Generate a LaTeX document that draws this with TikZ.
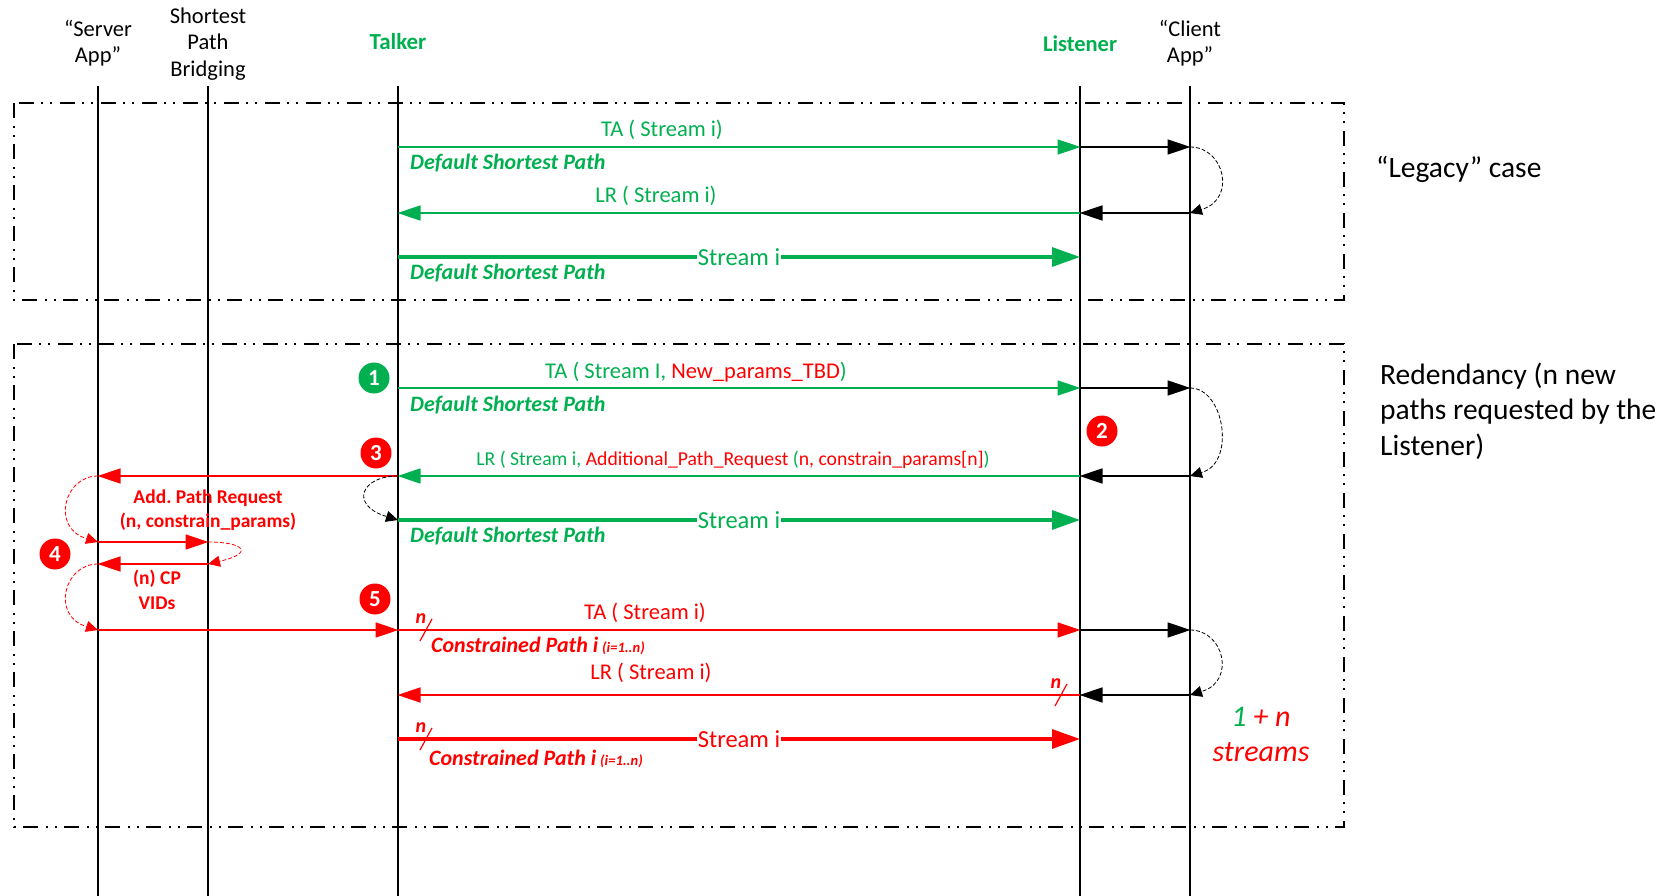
\documentclass[tikz,border=0pt]{standalone}
\usepackage{fontspec}
\setmainfont{Carlito}
\usepackage{tikz}
\usetikzlibrary{arrows.meta, calc, positioning}
\definecolor{talkgreen}{HTML}{00B050}
\newcommand\Fs[1]{\fontsize{#1}{#1}\selectfont\frenchspacing}
\tikzset{
  life/.style = {black, line width=1.6pt},
  frame/.style = {black, line width=1.5pt, dash pattern=on 15pt off 8pt on 2pt off 7pt on 2pt off 7pt},
  msg/.style = {line width=1.5pt, -{Triangle[length=23pt,width=15pt]}, shorten >=-0.5pt},
  flow/.style = {line width=3.2pt, -{Triangle[length=28pt,width=19pt]}},
  loopback/.style = {line width=0.8pt, dash pattern=on 4pt off 2pt, -{Triangle[length=12pt,width=11pt]}},
  txt/.style = {inner sep=0pt, align=center, font=\Fs{22.5}},
  path lbl/.style = {txt, anchor=west, font=\Fs{22}\bfseries\itshape},
  flow lbl/.style = {fill=white, inner xsep=1pt, inner ysep=1pt, font=\Fs{24.5}},
  step no/.style = {circle, fill=red, text=white, minimum size=31pt, inner sep=0pt, font=\Fs{23}\bfseries},
  note/.style = {txt, anchor=west, align=left, font=\Fs{29.5}},
}
\begin{document}
\begin{tikzpicture}[x=1pt, y=-1pt]
  \useasboundingbox (0,0) rectangle (1668,896);
  % lifelines and rows
  \foreach \l/\x in {server/98, bridge/208, talker/398, listener/1080, client/1190}{
    \coordinate (\l-top) at (\x,86);
    \coordinate (\l-bot) at (\x,896);
    \draw[life] (\l-top) -- (\l-bot);
    \foreach \r in {147,213,257,388,476,520,542,564,630,695,739}{
      \coordinate (\l-\r) at (\x,\r);
    }
  }
  % dashed frames
  \coordinate (legacy-nw) at (14,103);
  \coordinate (legacy-se) at (1344,300);
  \coordinate (red-nw) at (14,344);
  \coordinate (red-se) at (1344,827);
  \draw[frame] (legacy-nw) rectangle (legacy-se);
  \draw[frame] (red-nw) rectangle (red-se);
  % headers
  \node[txt] (serverHdr) at (98,43) {“Server\\[4pt]App”};
  \node[txt] (bridgeHdr) at (208,44) {Shortest\\[4pt]Path\\[4pt]Bridging};
  \node[txt, text=talkgreen, font=\Fs{23}\bfseries] (talkerHdr) at (398,42) {Talker};
  \node[txt, text=talkgreen, font=\Fs{22.5}\bfseries] (listenerHdr) at (1080,44) {Listener};
  \node[txt] (clientHdr) at (1190,43) {“Client\\[4pt]App”};
  % legacy case
  \draw[msg, talkgreen] (talker-147) -- (listener-147);
  \draw[msg, black] (listener-147) -- (client-147);
  \draw[loopback] (client-147) to[out=0, in=18, looseness=1.4] ($(client-213)+(13,-4)$) -- (client-213);
  \draw[msg, black] (client-213) -- (listener-213);
  \draw[msg, talkgreen] (listener-213) -- (talker-213);
  \draw[flow, talkgreen] (talker-257) -- node[flow lbl] (flowA) {Stream i} (listener-257);
  \node[txt, text=talkgreen] (taA) at (662,130) {TA ( Stream i)};
  \node[path lbl, text=talkgreen] (pathA) at (410,163) {Default Shortest Path};
  \node[txt, text=talkgreen] (lrA) at (656,196) {LR ( Stream i)};
  \node[path lbl, text=talkgreen] (pathB) at (410,273) {Default Shortest Path};
  \node[note] (legacyNote) at (1376,169) {“Legacy” case};
  % redundancy case
  \draw[msg, talkgreen] (talker-388) -- (listener-388);
  \draw[msg, black] (listener-388) -- (client-388);
  \draw[loopback] (client-388) to[out=0, in=18, looseness=1.03] ($(client-476)+(13,-4)$) -- (client-476);
  \draw[msg, black] (client-476) -- (listener-476);
  \draw[msg, talkgreen] (listener-476) -- (talker-476);
  \draw[msg, red] (talker-476) -- (server-476);
  \draw[loopback] (talker-476) to[out=180, in=162, looseness=2.25] ($(talker-520)+(-13,-4)$) -- (talker-520);
  \draw[flow, talkgreen] (talker-520) -- node[flow lbl] (flowB) {Stream i} (listener-520);
  \draw[loopback, red] (server-476) to[out=180, in=162, looseness=1.4] ($(server-542)+(-13,-4)$) -- (server-542);
  \draw[msg, red] (server-542) -- (bridge-542);
  \draw[loopback, red] (bridge-542) to[out=0, in=14, looseness=3.9] ($(bridge-564)+(13,-3)$) -- (bridge-564);
  \draw[msg, red] (bridge-564) -- (server-564);
  \draw[loopback, red] (server-564) to[out=180, in=162, looseness=1.4] ($(server-630)+(-13,-4)$) -- (server-630);
  \draw[msg, red] (server-630) -- (talker-630);
  \draw[msg, red] (talker-630) -- (listener-630);
  \draw[msg, black] (listener-630) -- (client-630);
  \draw[loopback] (client-630) to[out=0, in=18, looseness=1.4] ($(client-695)+(13,-4)$) -- (client-695);
  \draw[msg, black] (client-695) -- (listener-695);
  \draw[msg, red] (listener-695) -- (talker-695);
  \draw[flow, red] (talker-739) -- node[flow lbl, text=red] (flowC) {Stream i} (listener-739);
  % n slashes
  \foreach \s/\x/\y in {slashA/426/630, slashB/426/739, slashC/1061/695}{
    \coordinate (\s-up) at (\x+6,\y-11);
    \coordinate (\s-dn) at (\x-6,\y+11);
    \draw[red, line width=1.2pt] (\s-up) -- (\s-dn);
    \node[txt, text=red, font=\Fs{20}\bfseries\itshape] (\s-n) at (\x-5,\y-11) {n};
  }
  % labels
  \node[txt, text=talkgreen] (taB) at (696,372) {TA ( Stream I, \textcolor{red}{New\_params\_TBD})};
  \node[path lbl, text=talkgreen] (pathC) at (410,405) {Default Shortest Path};
  \node[txt, text=talkgreen, font=\Fs{19.7}] (lrB) at (733,460) {LR ( Stream i, \textcolor{red}{Additional\_Path\_Request} (\textcolor{red}{n, constrain\_params[n]})};
  \node[path lbl, text=talkgreen] (pathD) at (410,536) {Default Shortest Path};
  \node[txt, text=red, font=\Fs{19.5}\bfseries] (addReq) at (208,510) {Add. Path Request\\[5pt](n, constrain\_params)};
  \node[txt, text=red, font=\Fs{19.5}\bfseries] (cpVids) at (157,590) {(n) CP\\[5pt]VIDs};
  \node[txt, text=red] (taC) at (645,613) {TA ( Stream i)};
  \node[path lbl, text=red] (pathE) at (431,646) {Constrained Path i {\Fs{14.5}\kern-1pt (i=1..n)}};
  \node[txt, text=red] (lrC) at (651,673) {LR ( Stream i)};
  \node[path lbl, text=red] (pathF) at (429,759) {Constrained Path i {\Fs{14.5}\kern-1pt (i=1..n)}};
  \node[note] (redNote) at (1380,411) {Redendancy (n new\\[6pt]paths requested by the\\[6pt]Listener)};
  \node[txt, text=red, font=\Fs{30}\itshape] (streamsNote) at (1261,734) {\textcolor{talkgreen}{1} + n\\[5pt]streams};
  % step markers
  \node[step no, fill=talkgreen] (stepA) at (374,378) {1};
  \node[step no] (stepB) at (1102,431) {2};
  \node[step no] (stepC) at (376,453) {3};
  \node[step no] (stepD) at (55,554) {4};
  \node[step no] (stepE) at (375,599) {5};
\end{tikzpicture}
\end{document}
